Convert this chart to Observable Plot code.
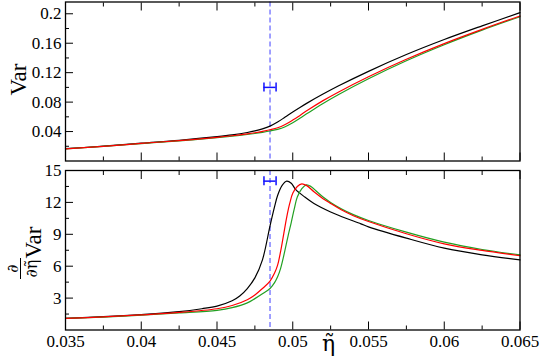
<!DOCTYPE html>
<html><head><meta charset="utf-8">
<script src="https://cdn.jsdelivr.net/npm/d3@7"></script>
<script src="https://cdn.jsdelivr.net/npm/@observablehq/plot@0.6"></script>
<style>
body{margin:0;background:#fff;}
#chart{position:relative;width:540px;height:359px;overflow:hidden;}
#chart svg{position:absolute;left:0;overflow:visible;font-family:'Liberation Serif',serif;}
</style></head><body><div id="chart"></div>
<script>
// ---------- data ----------
const etaTop = [0.035, 0.0375, 0.04, 0.0425, 0.045, 0.046, 0.047, 0.0475, 0.048, 0.0485, 0.049, 0.0495, 0.05, 0.0505, 0.051, 0.052, 0.053, 0.055, 0.0575, 0.06, 0.0625, 0.065];
const varBlack = [0.0168, 0.0201, 0.0242, 0.0281, 0.0330, 0.0354, 0.0387, 0.0409, 0.0437, 0.0474, 0.0529, 0.0597, 0.0666, 0.0731, 0.0793, 0.0909, 0.1018, 0.1218, 0.1446, 0.1650, 0.1836, 0.2015];
const varRed   = [0.0166, 0.0199, 0.0239, 0.0277, 0.0321, 0.0343, 0.0369, 0.0384, 0.0402, 0.0424, 0.0451, 0.0496, 0.0556, 0.0623, 0.0692, 0.0820, 0.0935, 0.1145, 0.1382, 0.1595, 0.1788, 0.1970];
const varGreen = [0.0166, 0.0198, 0.0237, 0.0274, 0.0316, 0.0336, 0.0360, 0.0374, 0.0390, 0.0408, 0.0430, 0.0466, 0.0519, 0.0583, 0.0651, 0.0782, 0.0901, 0.1118, 0.1362, 0.1580, 0.1778, 0.1960];

const etaDBlack = [0.035, 0.0375, 0.04, 0.0425, 0.044, 0.045, 0.046, 0.0465, 0.047, 0.0475, 0.048, 0.0485, 0.0488, 0.049, 0.0493, 0.0496, 0.0499, 0.0502, 0.0508, 0.0514, 0.0525, 0.0532, 0.0545, 0.055, 0.0575, 0.06, 0.0625, 0.065];
const dBlack    = [1.1, 1.25, 1.45, 1.72, 2.0, 2.25, 2.75, 3.2, 3.9, 4.9, 6.6, 9.8, 11.6, 12.65, 13.6, 14.0, 13.8, 13.2, 12.5, 11.9, 11.1, 10.68, 9.98, 9.7, 8.64, 7.7, 7.07, 6.6];
const etaDRed   = [0.035, 0.0375, 0.04, 0.0425, 0.045, 0.046, 0.047, 0.0475, 0.048, 0.0485, 0.0488, 0.049, 0.0492, 0.0494, 0.0496, 0.0498, 0.05, 0.0503, 0.0506, 0.0509, 0.0514, 0.052, 0.0525, 0.0532, 0.054, 0.055, 0.0575, 0.06, 0.0625, 0.065];
const dRed      = [1.1, 1.23, 1.42, 1.65, 2.0, 2.3, 2.85, 3.3, 3.9, 4.6, 5.35, 6.1, 7.4, 9.0, 10.6, 11.9, 12.85, 13.5, 13.75, 13.6, 13.0, 12.35, 11.9, 11.3, 10.75, 10.2, 9.05, 8.1, 7.48, 6.98];
const etaDGreen = [0.035, 0.0375, 0.04, 0.0425, 0.045, 0.046, 0.047, 0.0475, 0.048, 0.0485, 0.0488, 0.049, 0.0492, 0.0494, 0.0497, 0.0499, 0.0501, 0.0503, 0.0506, 0.0509, 0.0512, 0.0516, 0.052, 0.0525, 0.0532, 0.054, 0.055, 0.0575, 0.06, 0.0625, 0.065];
const dGreen    = [1.1, 1.22, 1.4, 1.6, 1.85, 2.1, 2.55, 2.95, 3.4, 3.9, 4.45, 5.0, 5.8, 6.95, 8.9, 10.1, 11.4, 12.5, 13.3, 13.65, 13.5, 13.0, 12.5, 12.0, 11.4, 10.85, 10.3, 9.2, 8.26, 7.57, 7.07];

const criticalEta = 0.0485;
const errLo = 0.0481, errHi = 0.0489;
const errYTop = 0.1, errYBottom = 14;

const xTicks = [0.035, 0.04, 0.045, 0.05, 0.055, 0.06, 0.065];
const xMinor = [0.0375, 0.0425, 0.0475, 0.0525, 0.0575, 0.0625];
const yTopTicks = [0.04, 0.08, 0.12, 0.16, 0.2];
const yTopMinor = [0.02, 0.06, 0.1, 0.14, 0.18];
const yBotTicks = [3, 6, 9, 12, 15];
const yBotMinor = [1.5, 4.5, 7.5, 10.5, 13.5];

// ---------- helpers ----------
const rows = (xs, ys) => xs.map((x, i) => ({eta: x, v: ys[i]}));
const colBlack = "#000000", colRed = "#ff0000", colGreen = "#22a022", colBlue = "#1010ff", colDash = "#4040ff";
const font = "Liberation Serif";
const greekFont = "DejaVu Serif";
const crv = "catmull-rom";

function frameAxes(yMajor, yMinor, withXLabels) {
  return [
    Plot.axisY(yMajor, {anchor: "left", tickSize: -8, tickPadding: 12, tickFormat: d => String(d), label: null, fontFamily: font, fontSize: 17}),
    Plot.axisY(yMinor, {anchor: "left", tickSize: -4, tickFormat: () => "", label: null}),
    Plot.axisX(xTicks, {anchor: "bottom", tickSize: -8, tickPadding: 13, tickFormat: withXLabels ? (d => String(d)) : (() => ""), label: null, fontFamily: font, fontSize: 17}),
    Plot.axisX(xMinor, {anchor: "bottom", tickSize: -4, tickFormat: () => "", label: null}),
    Plot.axisX(xTicks, {anchor: "top", tickSize: -8, tickFormat: () => "", label: null}),
    Plot.axisX(xMinor, {anchor: "top", tickSize: -4, tickFormat: () => "", label: null}),
    Plot.frame({stroke: "#000", strokeWidth: 1.3})
  ];
}

const chartEl = document.getElementById("chart");

// ---------- top panel ----------
const topPlot = Plot.plot({
  width: 540, height: 162,
  marginLeft: 65, marginRight: 20.5, marginTop: 1.5, marginBottom: 1.5,
  style: {fontFamily: font, fontSize: "17px", background: "transparent", color: "#000"},
  x: {domain: [0.035, 0.065]},
  y: {domain: [0, 0.216]},
  marks: [
    Plot.ruleX([criticalEta], {x: d => d, stroke: colDash, strokeWidth: 1, strokeDasharray: "5,3"}),
    Plot.line(rows(etaTop, varBlack), {x: "eta", y: "v", stroke: colBlack, strokeWidth: 1.2, curve: crv}),
    Plot.line(rows(etaTop, varGreen), {x: "eta", y: "v", stroke: colGreen, strokeWidth: 1.2, curve: crv}),
    Plot.line(rows(etaTop, varRed), {x: "eta", y: "v", stroke: colRed, strokeWidth: 1.2, curve: crv}),
    Plot.ruleY([errYTop], {y: d => d, x1: errLo, x2: errHi, stroke: colBlue, strokeWidth: 1.5}),
    Plot.ruleX([errLo, errHi], {x: d => d, y1: errYTop, y2: errYTop, insetTop: -4.5, insetBottom: -4.5, stroke: colBlue, strokeWidth: 1.5}),
    ...frameAxes(yTopTicks, yTopMinor, false),
    Plot.text(["Var"], {frameAnchor: "top-left", dx: -40, dy: 77.5, rotate: -90, textAnchor: "middle", lineAnchor: "bottom", fontSize: 23, fontFamily: font})
  ]
});
topPlot.style.top = "0px";
chartEl.appendChild(topPlot);

// ---------- bottom panel ----------
const botPlot = Plot.plot({
  width: 540, height: 197,
  marginLeft: 65, marginRight: 20.5, marginTop: 8, marginBottom: 29.5,
  style: {fontFamily: font, fontSize: "17px", background: "transparent", color: "#000"},
  x: {domain: [0.035, 0.065]},
  y: {domain: [0, 15]},
  marks: [
    Plot.ruleX([criticalEta], {x: d => d, stroke: colDash, strokeWidth: 1, strokeDasharray: "5,3"}),
    Plot.line(rows(etaDBlack, dBlack), {x: "eta", y: "v", stroke: colBlack, strokeWidth: 1.2, curve: crv}),
    Plot.line(rows(etaDGreen, dGreen), {x: "eta", y: "v", stroke: colGreen, strokeWidth: 1.2, curve: crv}),
    Plot.line(rows(etaDRed, dRed), {x: "eta", y: "v", stroke: colRed, strokeWidth: 1.2, curve: crv}),
    Plot.ruleY([errYBottom], {y: d => d, x1: errLo, x2: errHi, stroke: colBlue, strokeWidth: 1.5}),
    Plot.ruleX([errLo, errHi], {x: d => d, y1: errYBottom, y2: errYBottom, insetTop: -4.5, insetBottom: -4.5, stroke: colBlue, strokeWidth: 1.5}),
    ...frameAxes(yBotTicks, yBotMinor, true),
    Plot.text(["Var"], {frameAnchor: "top-left", dx: -25, dy: 72, rotate: -90, textAnchor: "middle", lineAnchor: "bottom", fontSize: 23, fontFamily: font}),
    Plot.text(["\u2202"], {frameAnchor: "top-left", dx: -48, dy: 98, rotate: -90, textAnchor: "middle", lineAnchor: "bottom", fontSize: 16, fontFamily: greekFont}),
    Plot.text(["\u2202\u03B7\u0303"], {frameAnchor: "top-left", dx: -29, dy: 98, rotate: -90, textAnchor: "middle", lineAnchor: "bottom", fontSize: 16, fontFamily: greekFont}),
    Plot.text(["\u03B7\u0303"], {frameAnchor: "bottom", dx: 35.75, dy: 20.5, textAnchor: "middle", lineAnchor: "bottom", fontSize: 22, fontFamily: greekFont})
  ]
});
botPlot.style.top = "162px";
// fraction bar of the derivative label
d3.select(botPlot).append("line")
  .attr("x1", 20.5).attr("x2", 20.5).attr("y1", 96).attr("y2", 117)
  .attr("stroke", "#000").attr("stroke-width", 1);
chartEl.appendChild(botPlot);
</script>
</body></html>
